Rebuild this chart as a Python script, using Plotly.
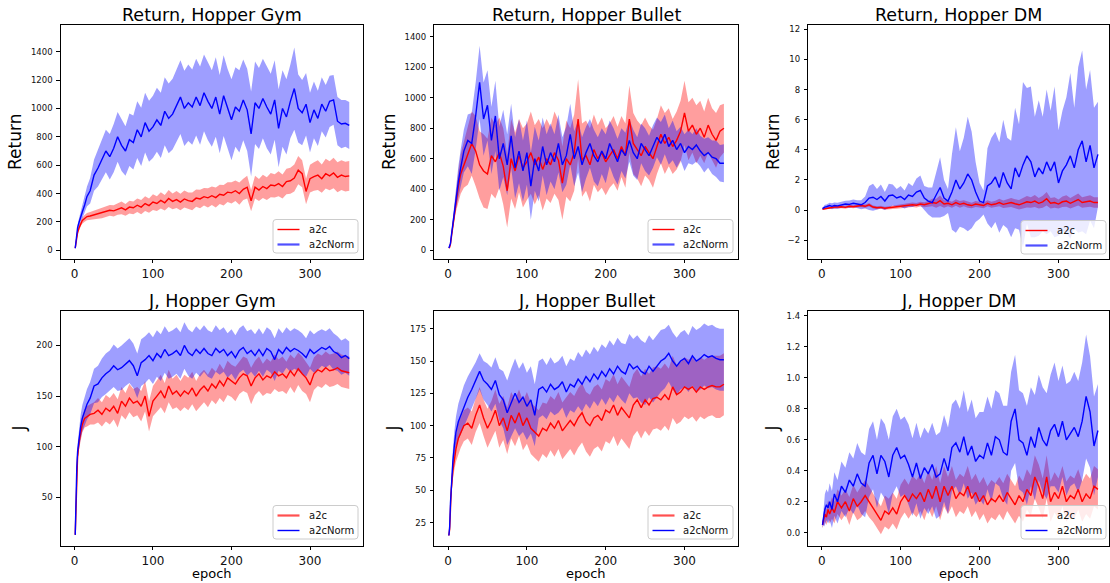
import plotly.graph_objects as go

# ---------------- data ----------------
EPOCHS = [1, 2, 3, 4, 6, 8, 10, 13, 16, 20] + list(range(25, 351, 5))
X_TICKS = [0, 100, 200, 300]
SERIES_NAMES = ["a2c", "a2cNorm"]

# Return, Hopper Gym
RET_GYM_A2C = [15, 60, 95, 125, 160, 190, 210, 225, 238, 242,
               250, 255, 262, 270, 282, 278, 290, 300, 285, 305,
               300, 318, 305, 330, 315, 340, 330, 352, 335, 365,
               345, 358, 340, 362, 350, 345, 368, 362, 378, 370,
               385, 372, 395, 388, 410, 405, 420, 400, 430, 445,
               350, 445, 425, 450, 435, 460, 455, 470, 450, 485,
               490, 510, 565, 540, 415, 505, 520, 530, 505, 540,
               525, 545, 515, 530, 520, 525]
RET_GYM_A2C_SD = [3, 8, 12, 15, 18, 20, 22, 24, 26, 28,
                  30, 32, 35, 35, 38, 40, 40, 45, 42, 45,
                  45, 48, 50, 52, 50, 55, 52, 58, 55, 60,
                  55, 60, 58, 60, 58, 62, 60, 65, 62, 68,
                  65, 70, 68, 72, 70, 75, 72, 78, 75, 80,
                  75, 80, 78, 82, 80, 85, 82, 88, 85, 90,
                  92, 95, 100, 95, 90, 98, 100, 105, 100, 105,
                  102, 108, 105, 105, 105, 105]
RET_GYM_NORM = [15, 70, 120, 160, 200, 240, 270, 320, 380, 420,
                530, 580, 640, 700, 660, 720, 800, 740, 700, 780,
                760, 850, 800, 900, 840, 870, 920, 880, 980, 930,
                960, 1020, 1080, 1000, 1040, 1010, 1080, 1020, 1110, 1050,
                1000, 1080, 960, 1090, 1000, 920, 1010, 980, 1060, 990,
                820, 1040, 1000, 1070, 1010, 960, 1060, 860, 1000, 940,
                1050, 1140, 1000, 970, 1030, 900, 990, 930, 1030, 980,
                1050, 1060, 910, 890, 895, 880]
RET_GYM_NORM_SD = [3, 12, 18, 24, 30, 35, 45, 55, 70, 90,
                   110, 130, 140, 150, 160, 170, 175, 180, 175, 185,
                   190, 200, 205, 210, 215, 220, 225, 230, 240, 245,
                   250, 255, 260, 265, 270, 265, 270, 275, 270, 275,
                   270, 280, 275, 285, 280, 285, 280, 290, 285, 290,
                   300, 290, 285, 280, 290, 285, 280, 275, 270, 265,
                   260, 290, 240, 230, 220, 210, 200, 195, 190, 185,
                   180, 175, 170, 170, 165, 165]

# Return, Hopper Bullet
RET_BUL_A2C = [15, 20, 40, 80, 160, 250, 330, 420, 500, 560,
               620, 700, 650, 560, 520, 500, 620, 580, 640, 550,
               390, 600, 520, 620, 540, 580, 640, 560, 610, 530,
               600, 560, 640, 590, 440, 600, 560, 640, 860, 590,
               620, 560, 660, 600, 640, 580, 620, 660, 600, 680,
               620, 860, 700, 660, 620, 680, 640, 600, 680, 760,
               700, 740, 680, 720, 780, 900, 780, 820, 760, 800,
               740, 820, 760, 720, 780, 800]
RET_BUL_A2C_SD = [3, 6, 12, 20, 35, 55, 75, 100, 130, 150,
                  190, 210, 230, 220, 240, 230, 250, 240, 230, 250,
                  240, 260, 250, 240, 260, 250, 270, 260, 250, 270,
                  260, 250, 270, 260, 240, 250, 240, 250, 260, 240,
                  230, 240, 230, 220, 230, 220, 210, 220, 210, 200,
                  210, 220, 200, 190, 200, 190, 180, 190, 180, 190,
                  200, 190, 180, 190, 200, 210, 190, 180, 190, 180,
                  170, 180, 170, 180, 170, 160]
RET_BUL_NORM = [15, 25, 45, 90, 170, 260, 350, 450, 540, 650,
                720, 700, 880, 1100, 860, 950, 720, 880, 600, 700,
                560, 750, 540, 650, 520, 640, 420, 600, 520, 680,
                560, 640, 580, 700, 560, 620, 760, 600, 680, 560,
                640, 700, 620, 580, 650, 600, 700, 640, 580, 660,
                620, 720, 640, 600, 700, 660, 620, 680, 740, 700,
                760, 680, 720, 660, 700, 640, 680, 660, 690, 650,
                620, 640, 610, 600, 570, 570]
RET_BUL_NORM_SD = [3, 6, 12, 20, 35, 55, 75, 100, 120, 140,
                   170, 200, 220, 240, 240, 230, 220, 230, 210, 220,
                   200, 210, 200, 210, 200, 210, 220, 210, 200, 190,
                   200, 190, 180, 190, 180, 190, 200, 180, 170, 180,
                   170, 160, 170, 160, 150, 160, 150, 160, 150, 140,
                   150, 140, 150, 140, 130, 140, 130, 140, 130, 140,
                   130, 120, 130, 120, 110, 120, 110, 100, 110, 100,
                   110, 100, 110, 120, 120, 125]

# Return, Hopper DM
RET_DM_A2C = [0.05, 0.06, 0.08, 0.1, 0.12, 0.14, 0.15, 0.18, 0.2, 0.2,
              0.22, 0.18, 0.25, 0.22, 0.28, 0.3, 0.25, 0.35, 0.2, 0.15,
              0.18, 0.12, 0.15, 0.18, 0.2, 0.25, 0.28, 0.3, 0.35, 0.32,
              0.4, 0.35, 0.42, 0.5, 0.45, 0.62, 0.4, 0.45, 0.35, 0.5,
              0.38, 0.45, 0.35, 0.3, 0.4, 0.35, 0.3, 0.45, 0.35, 0.4,
              0.5, 0.38, 0.45, 0.5, 0.42, 0.35, 0.45, 0.55, 0.5, 0.6,
              0.45, 0.55, 0.75, 0.45, 0.5, 0.4, 0.55, 0.6, 0.45, 0.6,
              0.7, 0.5, 0.55, 0.6, 0.5, 0.5]
RET_DM_A2C_SD = [0.02, 0.03, 0.04, 0.05, 0.06, 0.06, 0.07, 0.08, 0.08, 0.09,
                 0.1, 0.1, 0.1, 0.1, 0.11, 0.12, 0.12, 0.12, 0.1, 0.1,
                 0.1, 0.1, 0.1, 0.11, 0.12, 0.12, 0.13, 0.14, 0.15, 0.15,
                 0.16, 0.17, 0.18, 0.25, 0.3, 0.35, 0.25, 0.2, 0.2, 0.22,
                 0.22, 0.2, 0.2, 0.18, 0.2, 0.18, 0.18, 0.2, 0.2, 0.22,
                 0.25, 0.25, 0.28, 0.3, 0.3, 0.32, 0.35, 0.38, 0.35, 0.4,
                 0.35, 0.4, 0.45, 0.35, 0.35, 0.3, 0.35, 0.38, 0.35, 0.38,
                 0.4, 0.35, 0.35, 0.38, 0.35, 0.35]
RET_DM_NORM = [0.1, 0.15, 0.2, 0.2, 0.22, 0.25, 0.3, 0.25, 0.3, 0.28,
               0.35, 0.4, 0.38, 0.45, 0.4, 0.35, 0.5, 0.8, 0.85, 0.7,
               0.9, 0.6, 0.95, 1.0, 0.8, 0.9, 0.7, 1.0, 0.9, 1.2,
               1.3, 0.8, 0.6, 0.5, 1.0, 1.5, 0.8, 0.6, 1.2, 2.0,
               1.4, 1.8, 2.4, 2.0, 1.2, 0.6, 0.5, 1.6, 1.8, 2.2,
               1.5, 2.5, 1.8, 1.4, 2.8, 2.2, 3.0, 3.6, 3.2, 2.2,
               2.8, 2.4, 3.2, 2.6, 3.2, 1.8, 2.6, 3.0, 3.6, 2.8,
               4.0, 4.6, 3.2, 4.3, 2.8, 3.7]
RET_DM_NORM_SD = [0.05, 0.1, 0.12, 0.15, 0.15, 0.15, 0.18, 0.2, 0.2, 0.2,
                  0.2, 0.22, 0.25, 0.25, 0.25, 0.3, 0.4, 0.8, 0.9, 0.7,
                  0.8, 0.6, 0.8, 0.7, 0.6, 0.7, 0.6, 0.8, 0.7, 0.9,
                  1.0, 0.8, 0.9, 1.0, 1.5, 2.0, 1.2, 0.8, 2.5, 3.5,
                  2.5, 3.0, 3.8, 3.2, 2.0, 1.2, 0.8, 2.5, 3.0, 3.0,
                  3.0, 3.5, 3.0, 3.2, 4.0, 3.5, 5.5, 4.5, 5.0, 4.0,
                  4.5, 3.8, 4.8, 4.0, 5.0, 3.5, 4.0, 4.5, 5.5, 4.0,
                  5.5, 6.0, 4.8, 5.0, 4.0, 3.5]

# J, Hopper Gym
J_GYM_A2C = [13, 50, 75, 90, 105, 115, 122, 128, 130, 132,
             133, 136, 132, 138, 135, 140, 133, 145, 140, 148,
             143, 145, 140, 150, 130, 145, 150, 155, 148, 160,
             152, 155, 150, 155, 152, 158, 150, 156, 160, 155,
             162, 158, 165, 160, 168, 165, 162, 168, 172, 170,
             160, 168, 172, 166, 170, 168, 174, 170, 172, 168,
             175, 170, 177, 172, 168, 161, 172, 176, 174, 178,
             175, 176, 178, 175, 174, 173]
J_GYM_A2C_SD = [1, 3, 5, 6, 7, 8, 8, 9, 10, 10,
                11, 12, 12, 13, 13, 13, 14, 14, 13, 14,
                14, 14, 15, 15, 15, 15, 15, 16, 15, 16,
                15, 16, 15, 16, 16, 16, 15, 16, 16, 16,
                16, 16, 17, 16, 17, 16, 17, 16, 17, 17,
                18, 17, 17, 16, 17, 16, 17, 16, 17, 16,
                16, 17, 16, 17, 16, 17, 16, 16, 16, 16,
                16, 16, 16, 16, 16, 16]
J_GYM_NORM = [13, 55, 80, 95, 110, 120, 128, 135, 142, 148,
              160, 162, 168, 172, 175, 180, 176, 178, 182, 185,
              180, 170, 183, 186, 190, 185, 192, 188, 196, 190,
              192, 195, 190, 200, 193, 190, 196, 192, 197, 192,
              190, 197, 193, 196, 190, 194, 188, 195, 198, 192,
              195, 190, 196, 190, 197, 194, 186, 196, 192, 198,
              194, 197, 195, 192, 188, 196, 192, 195, 198, 196,
              199, 194, 192, 188, 190, 187]
J_GYM_NORM_SD = [1, 4, 6, 8, 10, 12, 13, 14, 15, 16,
                 17, 18, 19, 20, 20, 21, 21, 22, 22, 22,
                 22, 22, 23, 23, 23, 23, 23, 23, 23, 23,
                 23, 23, 23, 23, 23, 23, 23, 23, 23, 23,
                 23, 23, 22, 22, 22, 22, 22, 22, 22, 22,
                 21, 21, 21, 21, 21, 21, 21, 21, 20, 20,
                 20, 20, 20, 20, 19, 19, 19, 19, 18, 18,
                 18, 18, 17, 17, 17, 17]

# J, Hopper Bullet
J_BUL_A2C = [15, 20, 35, 50, 65, 75, 82, 90, 95, 100,
             102, 98, 108, 116, 106, 98, 104, 112, 100, 106,
             96, 108, 102, 110, 100, 106, 98, 95, 92, 98,
             96, 102, 98, 104, 96, 100, 104, 100, 106, 110,
             103, 100, 106, 108, 104, 112, 110, 116, 108, 114,
             110, 106, 116, 120, 114, 120, 116, 121, 122, 120,
             124, 120, 130, 124, 126, 130, 128, 130, 126, 130,
             128, 130, 131, 130, 130, 132]
J_BUL_A2C_SD = [1, 2, 4, 5, 7, 9, 10, 12, 12, 12,
                12, 13, 13, 14, 14, 15, 15, 16, 17, 17,
                18, 18, 18, 18, 19, 20, 20, 20, 20, 20,
                21, 21, 22, 22, 22, 22, 22, 23, 23, 23,
                23, 24, 24, 24, 24, 24, 24, 24, 24, 24,
                24, 24, 24, 24, 24, 24, 24, 24, 24, 24,
                24, 24, 24, 23, 23, 23, 23, 23, 23, 23,
                23, 23, 23, 24, 24, 24]
J_BUL_NORM = [15, 22, 40, 55, 72, 85, 95, 103, 108, 115,
              122, 128, 135, 142, 135, 132, 128, 135, 124, 120,
              110, 118, 125, 118, 122, 115, 120, 108, 128, 130,
              126, 132, 128, 130, 134, 126, 132, 130, 136, 132,
              138, 134, 140, 136, 142, 138, 144, 140, 146, 142,
              140, 148, 144, 146, 142, 140, 146, 142, 146, 150,
              152, 156, 150, 146, 150, 152, 148, 154, 150, 152,
              155, 153, 154, 152, 151, 151]
J_BUL_NORM_SD = [1, 3, 5, 7, 9, 11, 12, 14, 15, 16,
                 16, 15, 14, 14, 15, 16, 17, 18, 20, 22,
                 25, 26, 27, 26, 27, 26, 26, 24, 22, 22,
                 21, 21, 20, 20, 20, 20, 20, 20, 21, 21,
                 21, 21, 21, 21, 21, 22, 22, 22, 22, 22,
                 23, 23, 23, 24, 24, 24, 24, 24, 24, 24,
                 23, 22, 22, 22, 22, 22, 22, 23, 24, 24,
                 24, 24, 24, 24, 24, 24]

# J, Hopper DM
J_DM_A2C = [0.05, 0.08, 0.1, 0.12, 0.1, 0.15, 0.12, 0.16, 0.13, 0.2,
            0.16, 0.2, 0.14, 0.22, 0.17, 0.2, 0.24, 0.2, 0.16, 0.12,
            0.08, 0.14, 0.12, 0.16, 0.12, 0.2, 0.24, 0.2, 0.25, 0.22,
            0.26, 0.2, 0.28, 0.22, 0.3, 0.2, 0.3, 0.24, 0.3, 0.22,
            0.26, 0.24, 0.3, 0.22, 0.26, 0.2, 0.24, 0.18, 0.22, 0.2,
            0.24, 0.2, 0.26, 0.22, 0.18, 0.24, 0.2, 0.28, 0.24, 0.36,
            0.3, 0.22, 0.36, 0.2, 0.26, 0.22, 0.3, 0.2, 0.24, 0.22,
            0.28, 0.2, 0.25, 0.22, 0.3, 0.28]
J_DM_A2C_SD = [0.02, 0.03, 0.04, 0.05, 0.05, 0.06, 0.06, 0.07, 0.07, 0.08,
               0.08, 0.08, 0.09, 0.09, 0.09, 0.1, 0.1, 0.1, 0.09, 0.09,
               0.09, 0.1, 0.1, 0.1, 0.1, 0.11, 0.11, 0.11, 0.12, 0.12,
               0.12, 0.12, 0.12, 0.12, 0.13, 0.12, 0.13, 0.12, 0.13, 0.12,
               0.12, 0.12, 0.13, 0.12, 0.12, 0.12, 0.12, 0.12, 0.12, 0.12,
               0.12, 0.12, 0.12, 0.12, 0.12, 0.13, 0.13, 0.13, 0.13, 0.14,
               0.14, 0.13, 0.14, 0.13, 0.13, 0.13, 0.13, 0.13, 0.13, 0.13,
               0.13, 0.13, 0.13, 0.13, 0.13, 0.13]
J_DM_NORM = [0.05, 0.1, 0.12, 0.15, 0.18, 0.16, 0.2, 0.15, 0.25, 0.2,
             0.3, 0.26, 0.34, 0.3, 0.38, 0.32, 0.3, 0.45, 0.5, 0.38,
             0.5, 0.46, 0.36, 0.5, 0.55, 0.48, 0.5, 0.44, 0.36, 0.45,
             0.35, 0.42, 0.38, 0.44, 0.36, 0.38, 0.48, 0.4, 0.55, 0.58,
             0.52, 0.62, 0.5, 0.56, 0.46, 0.5, 0.48, 0.58, 0.5, 0.62,
             0.6, 0.52, 0.5, 0.72, 0.8, 0.6, 0.58, 0.5, 0.62, 0.55,
             0.68, 0.6, 0.56, 0.66, 0.7, 0.62, 0.72, 0.6, 0.64, 0.68,
             0.62, 0.72, 0.88, 0.78, 0.56, 0.66]
J_DM_NORM_SD = [0.02, 0.05, 0.08, 0.1, 0.1, 0.1, 0.12, 0.12, 0.14, 0.14,
                0.16, 0.16, 0.18, 0.18, 0.2, 0.2, 0.2, 0.22, 0.22, 0.22,
                0.24, 0.24, 0.24, 0.25, 0.25, 0.25, 0.25, 0.26, 0.25, 0.26,
                0.26, 0.26, 0.26, 0.27, 0.27, 0.27, 0.28, 0.28, 0.28, 0.28,
                0.28, 0.3, 0.28, 0.3, 0.28, 0.28, 0.3, 0.3, 0.3, 0.3,
                0.3, 0.3, 0.32, 0.32, 0.35, 0.32, 0.32, 0.32, 0.32, 0.34,
                0.34, 0.34, 0.34, 0.36, 0.4, 0.36, 0.36, 0.36, 0.34, 0.36,
                0.36, 0.38, 0.4, 0.36, 0.32, 0.3]

Y_TICKS_RET_GYM = [0, 200, 400, 600, 800, 1000, 1200, 1400]
Y_TICKS_RET_BUL = [0, 200, 400, 600, 800, 1000, 1200, 1400]
Y_TICKS_RET_DM = [-2, 0, 2, 4, 6, 8, 10, 12]
Y_TICKS_J_GYM = [50, 100, 150, 200]
Y_TICKS_J_BUL = [25, 50, 75, 100, 125, 150, 175]
Y_TICKS_J_DM = [0.0, 0.2, 0.4, 0.6, 0.8, 1.0, 1.2, 1.4]

# ---------------- layout / style ----------------
W, H = 1110, 583
FONT = "DejaVu Sans"
RED, BLUE = "#ff0000", "#0000ff"
RED_LIGHT, BLUE_LIGHT = "#ff5050", "#5050ff"
RED_FILL, BLUE_FILL = "rgba(255,0,0,0.38)", "rgba(0,0,255,0.38)"
COLS = [(60.7, 363.0), (434.3, 737.7), (808.3, 1109.0)]
ROWS = [(25.0, 259.0), (311.0, 546.0)]

panels = [
    dict(title="Return, Hopper Gym", ylabel="Return", a=RET_GYM_A2C, asd=RET_GYM_A2C_SD,
         b=RET_GYM_NORM, bsd=RET_GYM_NORM_SD, yr=[-61, 1588], yt=Y_TICKS_RET_GYM, fmt="int",
         xr=[-17.5, 367.5], ylx=15, leg=(358, 253)),
    dict(title="Return, Hopper Bullet", ylabel="Return", a=RET_BUL_A2C, asd=RET_BUL_A2C_SD,
         b=RET_BUL_NORM, bsd=RET_BUL_NORM_SD, yr=[-57, 1476], yt=Y_TICKS_RET_BUL, fmt="int",
         xr=[-17.5, 367.5], ylx=389, leg=(733, 253)),
    dict(title="Return, Hopper DM", ylabel="Return", a=RET_DM_A2C, asd=RET_DM_A2C_SD,
         b=RET_DM_NORM, bsd=RET_DM_NORM_SD, yr=[-3.25, 12.29], yt=Y_TICKS_RET_DM, fmt="int",
         xr=[-17.0, 364.0], ylx=773, leg=(1106, 254)),
    dict(title="J, Hopper Gym", ylabel="J", a=J_GYM_A2C, asd=J_GYM_A2C_SD,
         b=J_GYM_NORM, bsd=J_GYM_NORM_SD, yr=[2, 234], yt=Y_TICKS_J_GYM, fmt="int",
         xr=[-17.5, 367.5], ylx=18, leg=(358, 539)),
    dict(title="J, Hopper Bullet", ylabel="J", a=J_BUL_A2C, asd=J_BUL_A2C_SD,
         b=J_BUL_NORM, bsd=J_BUL_NORM_SD, yr=[6.9, 188.7], yt=Y_TICKS_J_BUL, fmt="int",
         xr=[-17.5, 367.5], ylx=392, leg=(733, 539)),
    dict(title="J, Hopper DM", ylabel="J", a=J_DM_A2C, asd=J_DM_A2C_SD,
         b=J_DM_NORM, bsd=J_DM_NORM_SD, yr=[-0.086, 1.432], yt=Y_TICKS_J_DM, fmt="1f",
         xr=[-17.0, 364.0], ylx=771, leg=(1106, 539)),
]

for p in panels:
    for k in ("a", "asd", "b", "bsd"):
        assert len(p[k]) == len(EPOCHS), (p["title"], k, len(p[k]))


def px(xp):
    return xp / W


def py(yp):
    return 1 - yp / H


def tick_text(v, fmt):
    s = str(int(v)) if fmt == "int" else "{:.1f}".format(v)
    return s.replace("-", "\u2212")


fig = go.Figure()
annotations = []
shapes = []
layout = dict(width=W, height=H, margin=dict(l=0, r=0, t=0, b=0),
              paper_bgcolor="white", plot_bgcolor="white", showlegend=False,
              font=dict(family=FONT, color="#000000"))

LEG_W, LEG_H = 85.0, 33.5

for i, p in enumerate(panels):
    n = i + 1
    r, c = divmod(i, 3)
    x0, x1 = COLS[c]
    y0, y1 = ROWS[r]
    xa = "xaxis" if n == 1 else f"xaxis{n}"
    ya = "yaxis" if n == 1 else f"yaxis{n}"
    xref = "x" if n == 1 else f"x{n}"
    yref = "y" if n == 1 else f"y{n}"

    layout[xa] = dict(domain=[px(x0), px(x1)], range=p["xr"], anchor=yref,
                      showline=True, mirror=True, linecolor="black", linewidth=0.9,
                      ticks="outside", ticklen=3.5, tickwidth=0.9, tickcolor="black",
                      tickvals=X_TICKS, ticktext=[str(v) for v in X_TICKS],
                      tickfont=dict(size=12, family=FONT, color="#111"),
                      showgrid=False, zeroline=False)
    layout[ya] = dict(domain=[py(y1), py(y0)], range=p["yr"], anchor=xref,
                      showline=True, mirror=True, linecolor="black", linewidth=0.9,
                      ticks="outside", ticklen=3.5, tickwidth=0.9, tickcolor="black",
                      tickvals=p["yt"], ticktext=[tick_text(v, p["fmt"]) for v in p["yt"]],
                      ticklabelstandoff=2,
                      tickfont=dict(size=8.5, family=FONT, color="#111"),
                      showgrid=False, zeroline=False)

    # bands
    for mean, sd, fillc in ((p["a"], p["asd"], RED_FILL), (p["b"], p["bsd"], BLUE_FILL)):
        upper = [m + s for m, s in zip(mean, sd)]
        lower = [m - s for m, s in zip(mean, sd)]
        fig.add_trace(go.Scatter(x=EPOCHS + EPOCHS[::-1], y=upper + lower[::-1],
                                 fill="toself", fillcolor=fillc, line=dict(width=0),
                                 mode="lines", hoverinfo="skip", showlegend=False,
                                 xaxis=xref, yaxis=yref))
    # mean lines
    for mean, name, col in ((p["a"], SERIES_NAMES[0], RED), (p["b"], SERIES_NAMES[1], BLUE)):
        fig.add_trace(go.Scatter(x=EPOCHS, y=mean, mode="lines", name=name,
                                 line=dict(color=col, width=1.4),
                                 xaxis=xref, yaxis=yref))

    # legend box (matplotlib style, lower right)
    lr, lb = p["leg"]
    ll, lt = lr - LEG_W, lb - LEG_H
    rad = 3.0
    path = (f"M {px(ll + rad)} {py(lt)} L {px(lr - rad)} {py(lt)} "
            f"Q {px(lr)} {py(lt)} {px(lr)} {py(lt + rad)} "
            f"L {px(lr)} {py(lb - rad)} Q {px(lr)} {py(lb)} {px(lr - rad)} {py(lb)} "
            f"L {px(ll + rad)} {py(lb)} Q {px(ll)} {py(lb)} {px(ll)} {py(lb - rad)} "
            f"L {px(ll)} {py(lt + rad)} Q {px(ll)} {py(lt)} {px(ll + rad)} {py(lt)} Z")
    shapes.append(dict(type="path", path=path, xref="paper", yref="paper",
                       fillcolor="rgba(255,255,255,0.8)", line=dict(color="#cccccc", width=1),
                       layer="above"))
    # in the reference, the top-row legends show a lighter a2cNorm sample,
    # the bottom-row legends a lighter a2c sample
    if r == 0:
        samples = [(RED, 1.4), (BLUE_LIGHT, 2.2)]
    else:
        samples = [(RED_LIGHT, 2.2), (BLUE, 1.4)]
    for k, (name, (col, lw)) in enumerate(zip(SERIES_NAMES, samples)):
        ry = lt + 10.0 + 15.0 * k
        shapes.append(dict(type="line", xref="paper", yref="paper",
                           x0=px(ll + 4.5), x1=px(ll + 26.5), y0=py(ry), y1=py(ry),
                           line=dict(color=col, width=lw), layer="above"))
        annotations.append(dict(text=name, x=px(ll + 33.5), y=py(ry), xref="paper", yref="paper",
                                showarrow=False, xanchor="left", yanchor="middle",
                                font=dict(size=10, family=FONT, color="#111")))

    cx = px((x0 + x1) / 2)
    title_y = 15 if r == 0 else 301
    annotations.append(dict(text=p["title"], x=cx, y=py(title_y), xref="paper", yref="paper",
                            showarrow=False, xanchor="center", yanchor="middle",
                            font=dict(size=17.5, family=FONT, color="#000")))
    annotations.append(dict(text=p["ylabel"], x=px(p["ylx"]), y=py((y0 + y1) / 2),
                            xref="paper", yref="paper", showarrow=False, textangle=-90,
                            xanchor="center", yanchor="middle",
                            font=dict(size=17, family=FONT, color="#000")))
    if r == 1:
        annotations.append(dict(text="epoch", x=cx, y=py(573), xref="paper", yref="paper",
                                showarrow=False, xanchor="center", yanchor="middle",
                                font=dict(size=13, family=FONT, color="#000")))

layout["annotations"] = annotations
layout["shapes"] = shapes
fig.update_layout(**layout)
fig.write_html("out.html")
